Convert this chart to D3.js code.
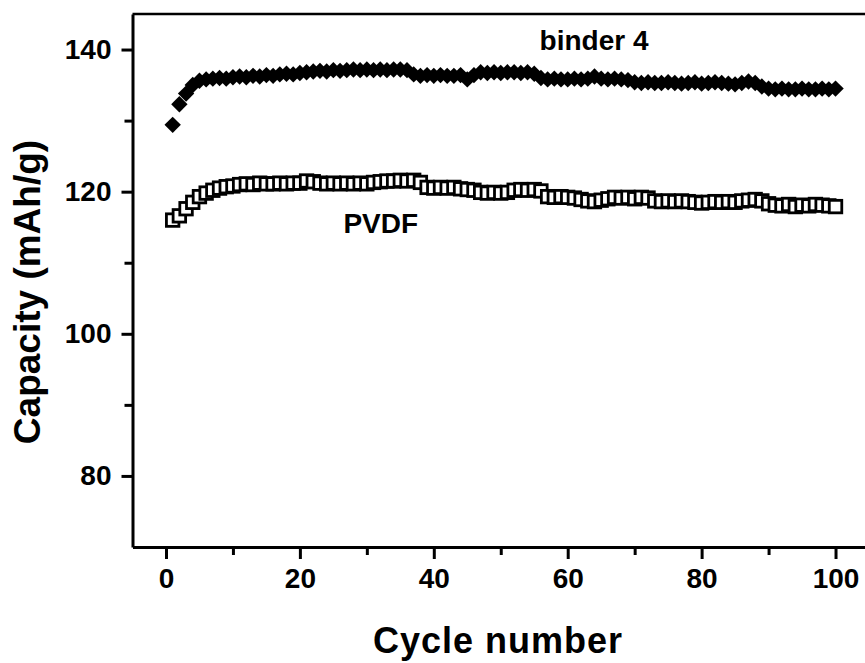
<!DOCTYPE html>
<html>
<head>
<meta charset="utf-8">
<script src="https://cdn.jsdelivr.net/npm/d3@7"></script>
<style>
  body { margin: 0; background: #fff; }
  svg { display: block; font-family: "Liberation Sans", Arial, sans-serif; font-weight: bold; }
</style>
</head>
<body>
<svg id="chart" width="865" height="663"></svg>
<script>
// capacity vs cycle
var cycles = d3.range(1, 101);

var binder4 = [
  129.4, 132.3, 133.8, 135.0, 135.6, 135.8, 135.9, 136.0, 135.9, 136.1,
  136.2, 136.1, 136.3, 136.2, 136.4, 136.3, 136.5, 136.6, 136.5, 136.7,
  136.8, 136.9, 137.0, 136.9, 137.1, 137.0, 137.1, 137.2, 137.1, 137.2,
  137.1, 137.2, 137.1, 137.2, 137.2, 137.1, 136.5, 136.3, 136.4, 136.3,
  136.4, 136.3, 136.3, 136.4, 135.8, 136.4, 136.8, 136.7, 136.8, 136.7,
  136.8, 136.8, 136.7, 136.8, 136.6, 136.0, 135.8, 135.9, 135.8, 135.8,
  135.9, 135.8, 135.9, 136.2, 135.9, 135.8, 135.9, 135.8, 135.7, 135.4,
  135.3, 135.4, 135.3, 135.3, 135.4, 135.3, 135.2, 135.3, 135.4, 135.2,
  135.3, 135.4, 135.3, 135.2, 135.1, 135.3, 135.5, 135.3, 134.8, 134.5,
  134.4, 134.5, 134.4, 134.4, 134.5, 134.4, 134.4, 134.5, 134.4, 134.5
];

var pvdf = [
  116.0, 116.6, 117.6, 118.5, 119.3, 119.8, 120.2, 120.5, 120.7, 120.8,
  121.0, 121.1, 121.0, 121.2, 121.1, 121.1, 121.2, 121.1, 121.2, 121.2,
  121.5, 121.4, 121.2, 121.1, 121.2, 121.1, 121.2, 121.1, 121.2, 121.1,
  121.3, 121.4, 121.5, 121.5, 121.6, 121.5, 121.6, 121.3, 120.6, 120.5,
  120.6, 120.5, 120.6, 120.4, 120.3, 120.2, 119.9, 119.8, 119.9, 119.8,
  119.9, 120.2, 120.3, 120.2, 120.3, 120.1, 119.3, 119.2, 119.3, 119.2,
  119.1, 118.9, 118.7, 118.6, 118.8, 119.0, 119.2, 119.1, 119.2, 119.0,
  119.2, 119.1, 118.7, 118.6, 118.7, 118.6, 118.7, 118.6, 118.5, 118.4,
  118.5, 118.6, 118.5, 118.6, 118.5, 118.7, 118.8, 118.9, 118.7, 118.3,
  118.1, 118.0, 118.2, 117.9, 118.1, 118.0, 118.2, 118.1, 118.0, 117.9
];

var xTicks = [0, 20, 40, 60, 80, 100];
var xMinor = [10, 30, 50, 70, 90];
var yTicks = [80, 100, 120, 140];
var yMinor = [90, 110, 130];

var svg = d3.select("#chart");

var x = d3.scaleLinear().domain([-5, 105]).range([132.5, 869]);
var y = d3.scaleLinear().domain([70, 145]).range([547, 14]);

// frame (top + right), axes drawn below
svg.append("path")
    .attr("d", "M" + x(-5) + "," + y(145) + "H" + x(105) + "V" + y(70))
    .attr("fill", "none")
    .attr("stroke", "#000")
    .attr("stroke-width", 2.5);

svg.append("g")
    .attr("transform", "translate(0," + y(70) + ")")
    .call(d3.axisBottom(x).tickValues(xTicks).tickSize(12).tickPadding(9).tickSizeOuter(0));

svg.append("g")
    .attr("transform", "translate(0," + y(70) + ")")
    .call(d3.axisBottom(x).tickValues(xMinor).tickSize(8).tickFormat("").tickSizeOuter(0))
    .select(".domain").remove();

svg.append("g")
    .attr("transform", "translate(" + x(-5) + ",0)")
    .call(d3.axisLeft(y).tickValues(yTicks).tickSize(11).tickPadding(10).tickSizeOuter(0));

svg.append("g")
    .attr("transform", "translate(" + x(-5) + ",0)")
    .call(d3.axisLeft(y).tickValues(yMinor).tickSize(8).tickFormat("").tickSizeOuter(0))
    .select(".domain").remove();

svg.selectAll(".domain").attr("stroke-width", 3);
svg.selectAll(".tick line").attr("stroke-width", 3);
svg.selectAll(".tick text")
    .attr("font-family", "Liberation Sans, Arial, sans-serif")
    .attr("font-weight", "bold")
    .attr("font-size", 28)
    .attr("fill", "#000");

// PVDF: open squares
var sq = 12.5;
svg.append("g").selectAll("rect")
    .data(pvdf)
    .enter().append("rect")
    .attr("x", function(d, i) { return x(cycles[i]) - sq / 2; })
    .attr("y", function(d) { return y(d) - sq / 2; })
    .attr("width", sq)
    .attr("height", sq)
    .attr("fill", "#fff")
    .attr("stroke", "#000")
    .attr("stroke-width", 2.8);

// binder 4: filled diamonds
var dm = 8.2;
svg.append("g").selectAll("path")
    .data(binder4)
    .enter().append("path")
    .attr("transform", function(d, i) { return "translate(" + x(cycles[i]) + "," + y(d) + ")"; })
    .attr("d", "M0," + (-dm) + "L" + dm + ",0L0," + dm + "L" + (-dm) + ",0Z")
    .attr("fill", "#000");

// labels
svg.append("text")
    .attr("x", x(55.8)).attr("y", y(140))
    .attr("font-size", 28)
    .text("binder 4");

svg.append("text")
    .attr("x", x(26.5)).attr("y", y(114.2))
    .attr("font-size", 28)
    .text("PVDF");

svg.append("text")
    .attr("x", 498).attr("y", 653)
    .attr("text-anchor", "middle")
    .attr("font-size", 36)
    .attr("letter-spacing", 1)
    .text("Cycle number");

svg.append("text")
    .attr("transform", "translate(40,292) rotate(-90)")
    .attr("text-anchor", "middle")
    .attr("font-size", 37)
    .text("Capacity (mAh/g)");
</script>
</body>
</html>
